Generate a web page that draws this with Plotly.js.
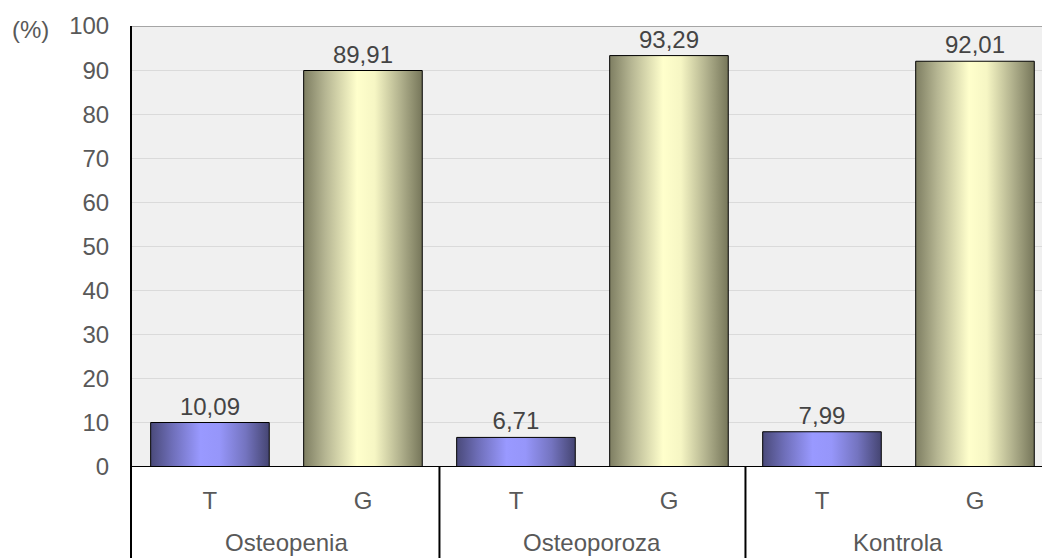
<!DOCTYPE html>
<html>
<head>
<meta charset="utf-8">
<script src="https://cdn.plot.ly/plotly-3.0.1.min.js"></script>
<style>
  html, body { margin: 0; padding: 0; background: #ffffff; }
  #chart { width: 1042px; height: 558px; }
</style>
</head>
<body>
<div id="chart"></div>
<script>
// Groups and the two marker classes shown within each group
const groups = ['Osteopenia', 'Osteoporoza', 'Kontrola'];
const markers = ['T', 'G'];

// Percentages per group
const tValues = [10.09, 6.71, 7.99];
const gValues = [89.91, 93.29, 92.01];

// Y axis ticks
const yTicks = [0, 10, 20, 30, 40, 50, 60, 70, 80, 90, 100];

// Each group occupies two adjacent slots on a numeric x axis
const tX = groups.map((_, i) => 2 * i);
const gX = groups.map((_, i) => 2 * i + 1);
const tickVals = [];
const tickText = [];
groups.forEach((_, i) => {
  markers.forEach((m, j) => { tickVals.push(2 * i + j); tickText.push(m); });
});

const labelFont = { family: 'Liberation Sans, Arial, sans-serif', size: 24, color: '#444444' };
const tickFont = { family: 'Liberation Sans, Arial, sans-serif', size: 24, color: '#595959' };

const barCommon = {
  type: 'bar',
  width: 0.775,
  texttemplate: '%{y:.2f}',
  textposition: 'outside',
  cliponaxis: false,
  textfont: labelFont,
  hoverinfo: 'skip',
  showlegend: false
};

const traces = [
  Object.assign({}, barCommon, {
    name: 'T', x: tX, y: tValues,
    marker: { color: '#8f8ff0', line: { color: '#000000', width: 1 } }
  }),
  Object.assign({}, barCommon, {
    name: 'G', x: gX, y: gValues,
    marker: { color: '#efefbd', line: { color: '#000000', width: 1 } }
  })
];

// Table-like category area under the plot
const shapes = [
  // top border of the plot area
  { type: 'line', xref: 'paper', yref: 'y', x0: 0, x1: 1, y0: 100, y1: 100,
    line: { color: '#8c8c8c', width: 1.5 } },
  // left axis line, running down through the category table
  { type: 'line', xref: 'paper', yref: 'paper', x0: 0, x1: 0, y0: 1, y1: -0.21,
    line: { color: '#000000', width: 2 } },
  // base line
  { type: 'line', xref: 'paper', yref: 'y', x0: 0, x1: 1, y0: 0, y1: 0,
    line: { color: '#000000', width: 2 } }
];
for (let i = 1; i < groups.length; i++) {
  shapes.push({ type: 'line', xref: 'x', yref: 'paper', x0: 2 * i - 0.5, x1: 2 * i - 0.5,
    y0: 0, y1: -0.21, line: { color: '#000000', width: 2 } });
}

// Group names sit along the bottom edge of the category table
const annotations = groups.map((g, i) => ({
  text: g, xref: 'x', yref: 'paper', x: 2 * i + 0.5, y: -0.2063,
  xanchor: 'center', yanchor: 'bottom', showarrow: false, font: tickFont
}));
annotations.push({
  text: '(%)', xref: 'paper', yref: 'paper', x: 0, xshift: -121, y: 1, yshift: -3,
  xanchor: 'left', yanchor: 'middle', showarrow: false, font: tickFont
});

const layout = {
  width: 1042, height: 558,
  margin: { l: 131, r: 0, t: 26, b: 91 },
  paper_bgcolor: '#ffffff',
  plot_bgcolor: '#f0f0f0',
  separators: ', ',
  bargap: 0,
  xaxis: {
    range: [-0.516, 5.438],
    tickmode: 'array', tickvals: tickVals, ticktext: tickText,
    showgrid: false, zeroline: false, showline: false,
    ticks: 'outside', ticklen: 12, tickcolor: 'rgba(0,0,0,0)',
    tickfont: tickFont, fixedrange: true
  },
  yaxis: {
    range: [0, 100],
    tickmode: 'array', tickvals: yTicks,
    showgrid: true, gridcolor: '#dadada', gridwidth: 1,
    zeroline: false, showline: false,
    ticks: 'outside', ticklen: 16, tickcolor: 'rgba(0,0,0,0)',
    tickfont: tickFont, fixedrange: true
  },
  shapes: shapes,
  annotations: annotations
};

// Horizontal shading used to give the bars a cylindrical look
const gradients = {
  gradT: [[0, '#4a4a7a'], [0.18, '#6e6eb8'], [0.42, '#9999ff'], [0.58, '#9696fa'], [0.8, '#7474c0'], [1, '#454572']],
  gradG: [[0, '#7e7e62'], [0.18, '#b5b592'], [0.45, '#ffffcc'], [0.6, '#f6f6c4'], [0.82, '#b0b08c'], [1, '#76765a']]
};

function applyGradients(gd) {
  const svg = gd.querySelector('svg.main-svg');
  const ns = 'http://www.w3.org/2000/svg';
  let defs = svg.querySelector('defs');
  if (!defs) { defs = document.createElementNS(ns, 'defs'); svg.insertBefore(defs, svg.firstChild); }
  Object.keys(gradients).forEach(id => {
    if (defs.querySelector('#' + id)) return;
    const lg = document.createElementNS(ns, 'linearGradient');
    lg.setAttribute('id', id);
    lg.setAttribute('x1', '0'); lg.setAttribute('y1', '0');
    lg.setAttribute('x2', '1'); lg.setAttribute('y2', '0');
    gradients[id].forEach(([off, col]) => {
      const s = document.createElementNS(ns, 'stop');
      s.setAttribute('offset', off);
      s.setAttribute('stop-color', col);
      lg.appendChild(s);
    });
    defs.appendChild(lg);
  });
  const ids = ['gradT', 'gradG'];
  gd.querySelectorAll('.barlayer .trace').forEach((tr, i) => {
    tr.querySelectorAll('.point path').forEach(p => { p.style.fill = 'url(#' + ids[i] + ')'; });
  });
}

const gd = document.getElementById('chart');
Plotly.newPlot(gd, traces, layout, { displayModeBar: false, staticPlot: true })
  .then(() => applyGradients(gd));
</script>
</body>
</html>
